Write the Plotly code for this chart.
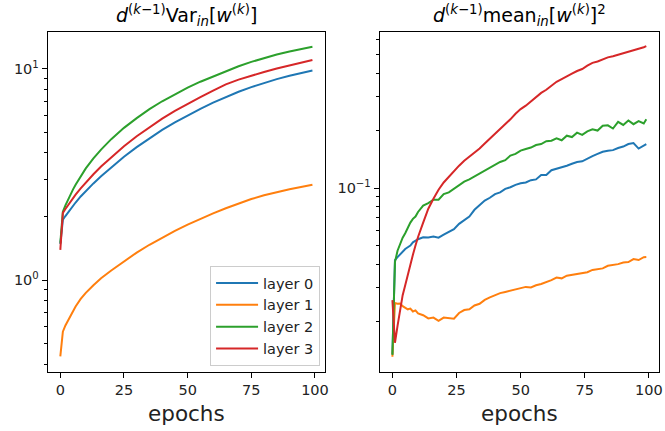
import plotly.graph_objects as go
import math

# ---------------- data ----------------
layers = ["layer 0", "layer 1", "layer 2", "layer 3"]
colors = ["#1f77b4", "#ff7f0e", "#2ca02c", "#d62728"]

# left panel: d^(k-1) Var_in[w^(k)]
epochs_var = [0, 1, 2, 3, 4, 5, 6, 8, 10, 13, 16, 20, 25, 30, 35, 40, 45, 50,
              55, 60, 65, 70, 75, 80, 85, 90, 95, 99]
var_l0 = [1.48, 1.93, 2.01, 2.09, 2.17, 2.25, 2.33, 2.49, 2.64, 2.87, 3.10, 3.42, 3.84, 4.26,
          4.70, 5.14, 5.58, 6.02, 6.47, 6.92, 7.38, 7.80, 8.20, 8.60, 8.95, 9.28, 9.58, 9.82]
var_l1 = [0.435, 0.570, 0.610, 0.645, 0.680, 0.715, 0.750, 0.815, 0.870, 0.945, 1.02, 1.11, 1.23, 1.35,
          1.47, 1.59, 1.71, 1.83, 1.95, 2.07, 2.19, 2.31, 2.42, 2.52, 2.61, 2.69, 2.77, 2.83]
var_l2 = [1.50, 2.11, 2.26, 2.41, 2.55, 2.69, 2.83, 3.11, 3.38, 3.77, 4.15, 4.65, 5.26, 5.85,
          6.45, 7.03, 7.60, 8.15, 8.70, 9.22, 9.78, 10.30, 10.80, 11.28, 11.70, 12.10, 12.45, 12.75]
var_l3 = [1.39, 2.08, 2.17, 2.26, 2.36, 2.45, 2.54, 2.72, 2.90, 3.17, 3.45, 3.82, 4.30, 4.80,
          5.30, 5.82, 6.33, 6.85, 7.35, 7.90, 8.45, 8.90, 9.30, 9.68, 10.05, 10.40, 10.75, 11.03]

# right panel: d^(k-1) mean_in[w^(k)]^2
epochs_mean = [0, 1, 2, 3, 4, 5, 6, 7, 8, 9, 10,
               12, 14, 16, 18, 20, 22, 24, 26, 28, 30,
               32, 34, 36, 38, 40, 42, 44, 46, 48, 50,
               52, 54, 56, 58, 60, 62, 64, 66, 68, 70,
               72, 74, 76, 78, 80, 82, 84, 86, 88, 90,
               92, 94, 96, 98, 99]
mean_l0 = [0.0135, 0.042, 0.0435, 0.045, 0.0462, 0.048, 0.049, 0.050, 0.052, 0.053, 0.054,
           0.0553, 0.0552, 0.0558, 0.0550, 0.0570, 0.0590, 0.0610, 0.0650, 0.0680, 0.0710,
           0.0770, 0.0810, 0.0860, 0.0890, 0.0930, 0.0950, 0.0990, 0.1010, 0.1040, 0.1060,
           0.107, 0.110, 0.111, 0.117, 0.117, 0.124, 0.126, 0.128, 0.131, 0.134,
           0.137, 0.138, 0.143, 0.147, 0.151, 0.155, 0.157, 0.158, 0.162, 0.165,
           0.170, 0.172, 0.161, 0.166, 0.170]
mean_l1 = [0.0131, 0.0250, 0.0248, 0.0249, 0.0241, 0.0236, 0.0232, 0.0234, 0.0226, 0.0229, 0.0221,
           0.0216, 0.0208, 0.0210, 0.0202, 0.0210, 0.0208, 0.0207, 0.0222, 0.0230, 0.0232,
           0.0243, 0.0248, 0.0260, 0.0268, 0.0276, 0.0282, 0.0286, 0.0291, 0.0294, 0.0300,
           0.0304, 0.0302, 0.0310, 0.0315, 0.0322, 0.0330, 0.0340, 0.0337, 0.0348, 0.0352,
           0.0355, 0.0360, 0.0363, 0.0373, 0.0375, 0.0380, 0.0392, 0.0395, 0.0400, 0.0408,
           0.0410, 0.0425, 0.0420, 0.0435, 0.0436]
mean_l2 = [0.0134, 0.041, 0.047, 0.0515, 0.055, 0.058, 0.062, 0.066, 0.069, 0.071, 0.075,
           0.081, 0.0835, 0.087, 0.087, 0.093, 0.095, 0.099, 0.103, 0.108, 0.111,
           0.115, 0.120, 0.124, 0.128, 0.133, 0.137, 0.140, 0.148, 0.151, 0.157,
           0.160, 0.163, 0.168, 0.170, 0.176, 0.177, 0.182, 0.178, 0.188, 0.185,
           0.195, 0.190, 0.198, 0.203, 0.200, 0.212, 0.213, 0.205, 0.222, 0.214,
           0.226, 0.216, 0.224, 0.218, 0.229]
mean_l3 = [0.0259, 0.0155, 0.019, 0.0235, 0.0275, 0.031, 0.0355, 0.040, 0.0448, 0.050, 0.0555,
           0.066, 0.078, 0.088, 0.098, 0.107, 0.115, 0.123, 0.131, 0.139, 0.146,
           0.153, 0.161, 0.171, 0.181, 0.193, 0.204, 0.217, 0.229, 0.245, 0.259,
           0.270, 0.284, 0.298, 0.315, 0.327, 0.342, 0.360, 0.372, 0.386, 0.397,
           0.410, 0.420, 0.437, 0.452, 0.460, 0.473, 0.483, 0.490, 0.499, 0.507,
           0.514, 0.524, 0.534, 0.546, 0.553]

x_ticks = [0, 25, 50, 75, 100]

var_series = [var_l0, var_l1, var_l2, var_l3]
mean_series = [mean_l0, mean_l1, mean_l2, mean_l3]

# ---------------- figure ----------------
W, H = 665, 431
FONT = "DejaVu Sans"

def px_x(p):
    return p / W

def px_y(p):
    return 1 - p / H

fig = go.Figure()
for name, c, ys in zip(layers, colors, var_series):
    fig.add_trace(go.Scatter(x=epochs_var, y=ys, mode="lines", name=name,
                             line=dict(color=c, width=2), xaxis="x", yaxis="y"))
for name, c, ys in zip(layers, colors, mean_series):
    fig.add_trace(go.Scatter(x=epochs_mean, y=ys, mode="lines", name=name,
                             line=dict(color=c, width=2), xaxis="x2", yaxis="y2",
                             showlegend=False))

axis_common = dict(showline=True, linecolor="black", linewidth=1, mirror=True,
                   ticks="outside", ticklen=5, tickwidth=1, tickcolor="black",
                   showgrid=False, zeroline=False,
                   tickfont=dict(family=FONT, size=14.5, color="#222222"))

yl_dom = [px_y(372), px_y(32)]
fig.update_layout(
    width=W, height=H,
    margin=dict(l=0, r=0, t=0, b=0),
    paper_bgcolor="white", plot_bgcolor="white",
    font=dict(family=FONT, color="black"),
    xaxis=dict(domain=[px_x(48), px_x(327)], range=[-4.95, 103.95],
               tickvals=x_ticks, anchor="y", **axis_common),
    yaxis=dict(domain=yl_dom, type="log",
               range=[math.log10(0.367), math.log10(14.96)],
               tickvals=[1, 10], ticktext=["10<sup>0</sup>", "10<sup>1</sup>"],
               anchor="x",
               minor=dict(tickmode="array",
                          tickvals=[0.4, 0.5, 0.6, 0.7, 0.8, 0.9, 2, 3, 4, 5, 6, 7, 8, 9],
                          ticks="outside", ticklen=3, tickwidth=1, tickcolor="black",
                          showgrid=False),
               **axis_common),
    xaxis2=dict(domain=[px_x(382), px_x(663)], range=[-4.95, 103.95],
                tickvals=x_ticks, anchor="y2", **axis_common),
    yaxis2=dict(domain=yl_dom, type="log",
                range=[math.log10(0.0109), math.log10(0.656)],
                tickvals=[0.1], ticktext=["10<sup>\u22121</sup>"],
                anchor="x2",
                minor=dict(tickmode="array",
                           tickvals=[0.02, 0.03, 0.04, 0.05, 0.06, 0.07, 0.08, 0.09,
                                     0.2, 0.3, 0.4, 0.5, 0.6],
                           ticks="outside", ticklen=3, tickwidth=1, tickcolor="black",
                           showgrid=False),
                **axis_common),
    legend=dict(x=px_x(322), xanchor="right", y=px_y(366), yanchor="bottom",
                bgcolor="rgba(255,255,255,0.8)", bordercolor="#cccccc", borderwidth=1,
                font=dict(family=FONT, size=14.5, color="#222222"),
                itemwidth=42, tracegroupgap=0),
    showlegend=True,
)

title_font = dict(family=FONT, size=19, color="black")
fig.add_annotation(x=px_x(187.5), y=px_y(15), xref="paper", yref="paper",
                   text="<i>d</i><sup>(<i>k</i>\u22121)</sup>Var<sub><i>in</i></sub>[<i>w</i><sup>(<i>k</i>)</sup>]",
                   showarrow=False, font=title_font, xanchor="center", yanchor="middle")
fig.add_annotation(x=px_x(522.5), y=px_y(15), xref="paper", yref="paper",
                   text="<i>d</i><sup>(<i>k</i>\u22121)</sup>mean<sub><i>in</i></sub>[<i>w</i><sup>(<i>k</i>)</sup>]<sup>2</sup>",
                   showarrow=False, font=title_font, xanchor="center", yanchor="middle")
label_font = dict(family=FONT, size=21.5, color="#222222")
fig.add_annotation(x=px_x(187.5), y=px_y(413), xref="paper", yref="paper", text="epochs",
                   showarrow=False, font=label_font, xanchor="center", yanchor="middle")
fig.add_annotation(x=px_x(522.5), y=px_y(413), xref="paper", yref="paper", text="epochs",
                   showarrow=False, font=label_font, xanchor="center", yanchor="middle")

fig.write_html("out.html")
